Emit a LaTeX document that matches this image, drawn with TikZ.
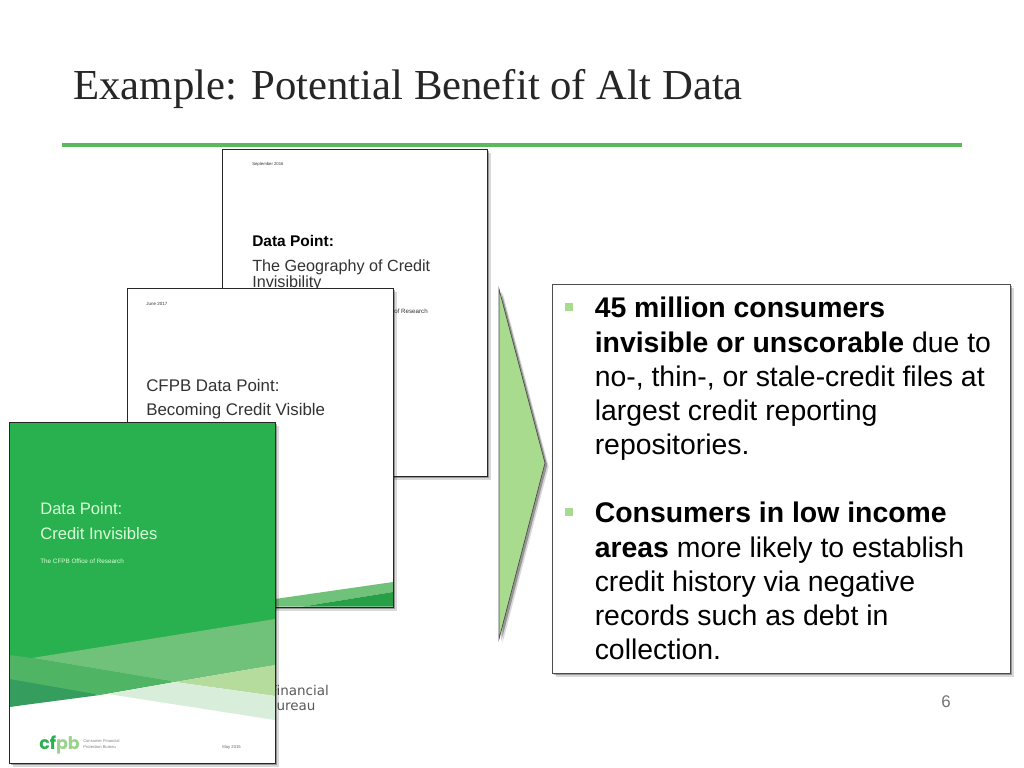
\documentclass[tikz,border=0pt]{standalone}
\usepackage{fontspec}
\usepackage{xcolor}
\setmainfont{Liberation Sans}
\newfontfamily\titlefont{Liberation Serif}
\newfontfamily\logofont{DejaVu Sans}
\newfontfamily\cfpbfont{Poppins}
\usetikzlibrary{shadows,shapes,positioning}
\definecolor{rulegreen}{HTML}{5CB85C}
\definecolor{covergreen}{HTML}{2AB14F}
\definecolor{arrowgreen}{HTML}{A9DB8E}
\definecolor{bandlight}{HTML}{70C17A}
\definecolor{bandmid}{HTML}{4FB565}
\definecolor{banddark}{HTML}{359E5F}
\definecolor{bandyellow}{HTML}{B5DC9C}
\definecolor{bandpale}{HTML}{D9EEDA}
\tikzset{
  softshadow/.style={drop shadow={shadow xshift=2.6pt,shadow yshift=-2.6pt,fill=black,opacity=0.15},drop shadow={shadow xshift=1.6pt,shadow yshift=-1.6pt,fill=black,opacity=0.3}},
  cover/.style={draw=black!85,fill=white,line width=0.6pt,softshadow},
  coveredge/.style={draw=black!85,line width=0.6pt},
  covertext/.style={inner sep=0pt,anchor=base west,text=black!80},
  fronttext/.style={covertext,text=white!85!green},
  bullet/.style={fill=arrowgreen,draw=none,minimum size=6pt,inner sep=0pt},
  bodytext/.style={inner sep=0pt,anchor=north west,align=left,font=\fontsize{20.2pt}{24.3pt}\selectfont,text=black}
}
\begin{document}
\begin{tikzpicture}[x=0.025cm,y=-0.025cm]
    \useasboundingbox (0,0) rectangle (1024,768);
    % Title
    \node (title) [inner sep=0pt,anchor=base west,text=black!85] at (73,100) {\titlefont\fontsize{30.4pt}{36pt}\selectfont Example: Potential Benefit of Alt Data};
    \draw [rulegreen,line width=2.8pt] (62,145) -- (962,145);
    % Logo text behind the front cover
    \node (logoa) [inner sep=0pt,anchor=base west,text=black!65] at (269.5,695) {\logofont\fontsize{9.6pt}{12pt}\selectfont Financial};
    \node (logob) [inner sep=0pt,anchor=base west,text=black!65] at (267,710) {\logofont\fontsize{9.6pt}{12pt}\selectfont Bureau};
    % Back cover
    \draw [cover] (222,149) rectangle (487,476);
    \node [covertext] at (252,165) {\fontsize{3pt}{4pt}\selectfont September 2016};
    \node [covertext,text=black] at (252,246) {\fontsize{11pt}{12pt}\selectfont\bfseries Data Point:};
    \node [covertext] at (252,271) {\fontsize{11.5pt}{12pt}\selectfont The Geography of Credit};
    \node [covertext] at (252,287) {\fontsize{11.5pt}{12pt}\selectfont Invisibility};
    \node [covertext,anchor=base east] at (428,313) {\fontsize{4.4pt}{6pt}\selectfont Office of Research};
    % Middle cover
    \draw [cover] (127,288) rectangle (393,607);
    \fill [bandlight] (275,599) -- (393,582) -- (393,592) -- (303,606.5) -- (275,606.5) -- cycle;
    \fill [covergreen!90!black] (303,606.5) -- (393,592) -- (393,606.5) -- cycle;
    \draw [coveredge] (127,288) rectangle (393,607);
    \node [covertext] at (146,305) {\fontsize{3.2pt}{4pt}\selectfont June 2017};
    \node [covertext] at (146,391) {\fontsize{12pt}{12pt}\selectfont CFPB Data Point:};
    \node [covertext] at (146,415) {\fontsize{12pt}{12pt}\selectfont Becoming Credit Visible};
    % Front cover
    \draw [cover] (9,422) rectangle (275,763);
    \fill [covergreen] (9,422) rectangle (275,707);
    \fill [white] (9,707) -- (275,665) -- (275,707) -- cycle;
    \fill [bandlight] (32,658) -- (275,619) -- (275,665) -- (175,682) -- cycle;
    \fill [bandmid] (9,655) -- (32,658) -- (175,682) -- (100,695) -- (9,679) -- cycle;
    \fill [banddark] (9,679) -- (100,695) -- (9,707) -- cycle;
    \fill [bandyellow] (175,682) -- (275,665) -- (275,696) -- cycle;
    \fill [bandpale] (108,694) -- (175,682) -- (275,696) -- (275,720) -- cycle;
    \draw [coveredge] (9,422) rectangle (275,763);
    \node [fronttext] at (40,514) {\fontsize{11.8pt}{12pt}\selectfont Data Point:};
    \node [fronttext] at (40,539) {\fontsize{11.8pt}{12pt}\selectfont Credit Invisibles};
    \node [fronttext] at (40,563) {\fontsize{4.5pt}{5pt}\selectfont The CFPB Office of Research};
    \node (cfpb) [covertext] at (39,749) {\cfpbfont\fontsize{12.4pt}{14pt}\selectfont\bfseries\textcolor{covergreen}{cf}\textcolor{bandyellow!80!covergreen}{pb}};
    \node (cfpbname) [covertext,text=black!50] at (83,742.5) {\fontsize{2.9pt}{4pt}\selectfont Consumer Financial};
    \node (cfpbnameb) [covertext,text=black!50] at (83,748.5) {\fontsize{2.9pt}{4pt}\selectfont Protection Bureau};
    \node [covertext,text=black!60] at (222,748) {\fontsize{3pt}{4pt}\selectfont May 2015};
    % Arrow
    \draw [fill=arrowgreen,draw=black!70,line width=0.5pt,softshadow] (499,289) -- (545,463) -- (499,639) -- cycle;
    % Text box
    \draw [cover,draw=black!70] (552,284) rectangle (1010,673);
    \node (bulleta) [bullet] at (569,307) {};
    \node (texta) [bodytext] at (594.5,297) {\textbf{45 million consumers}\\\textbf{invisible or unscorable} due to\\no-, thin-, or stale-credit files at\\largest credit reporting\\repositories.};
    \node (bulletb) [bullet] at (569,512) {};
    \node (textb) [bodytext] at (594.5,502) {\textbf{Consumers in low income}\\\textbf{areas} more likely to establish\\credit history via negative\\records such as debt in\\collection.};
    % Page number
    \node (pagenum) [inner sep=0pt,text=black!55] at (946,702) {\fontsize{12pt}{14pt}\selectfont 6};
\end{tikzpicture}
\end{document}
